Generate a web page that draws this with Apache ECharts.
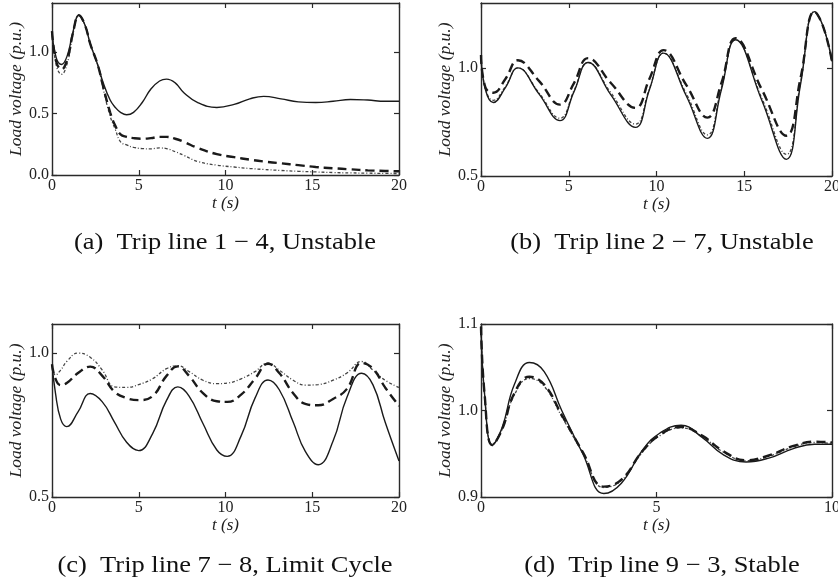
<!DOCTYPE html>
<html>
<head>
<meta charset="utf-8">
<title>Load voltage after line trips</title>
<script src="https://cdn.jsdelivr.net/npm/echarts@6/dist/echarts.min.js"></script>
<style>
  html, body { margin: 0; padding: 0; background: #fff; }
  #chart { width: 838px; height: 584px; }
</style>
</head>
<body>
<div id="chart"></div>
<script>
// ---- (a) Trip line 1-4 ----
const tA = [0, 0.25, 0.55, 0.9, 1.2, 1.55, 1.9, 2.2, 2.65, 2.95, 3.35, 3.65, 3.95, 4.3, 4.7, 5.2, 5.7, 6.2, 6.6, 7.1, 7.6, 8.4, 9.5, 10.5, 11.4, 12.2, 13.2, 14.2, 15.2, 16.2, 17.2, 18.2, 19.2, 20];
const solidA = [1.17, 0.95, 0.90, 0.98, 1.16, 1.30, 1.22, 1.07, 0.89, 0.75, 0.61, 0.55, 0.51, 0.49, 0.51, 0.59, 0.70, 0.765, 0.78, 0.75, 0.67, 0.59, 0.55, 0.575, 0.62, 0.64, 0.62, 0.595, 0.59, 0.60, 0.615, 0.61, 0.60, 0.60];
const dashA = [1.17, 0.92, 0.86, 0.95, 1.15, 1.30, 1.22, 1.07, 0.89, 0.72, 0.51, 0.40, 0.33, 0.31, 0.30, 0.295, 0.30, 0.31, 0.31, 0.295, 0.27, 0.22, 0.17, 0.145, 0.125, 0.11, 0.095, 0.08, 0.065, 0.055, 0.046, 0.038, 0.033, 0.03];
const dotA = [1.17, 0.89, 0.82, 0.92, 1.14, 1.30, 1.22, 1.07, 0.89, 0.70, 0.48, 0.37, 0.27, 0.245, 0.225, 0.215, 0.213, 0.22, 0.215, 0.19, 0.16, 0.11, 0.08, 0.065, 0.053, 0.045, 0.037, 0.03, 0.025, 0.02, 0.017, 0.015, 0.013, 0.012];

// ---- (b) Trip line 2-7 ----
const tB = [0, 0.25, 0.7, 1.4, 2.1, 3.3, 4.5, 5.3, 6.1, 7.4, 8.8, 9.6, 10.4, 11.7, 12.9, 13.7, 14.5, 16.0, 17.4, 18.2, 19.0, 19.5, 20];
const solidB = [1.06, 0.90, 0.84, 0.91, 1.00, 0.88, 0.756, 0.89, 1.025, 0.875, 0.725, 0.90, 1.068, 0.87, 0.674, 0.90, 1.13, 0.85, 0.577, 0.92, 1.26, 1.19, 1.03];
const dashB = [1.06, 0.91, 0.885, 0.95, 1.035, 0.94, 0.83, 0.93, 1.045, 0.93, 0.815, 0.95, 1.082, 0.92, 0.77, 0.93, 1.137, 0.90, 0.686, 0.95, 1.26, 1.19, 1.03];
const dotB = [1.06, 0.905, 0.85, 0.915, 1.00, 0.885, 0.767, 0.895, 1.025, 0.885, 0.74, 0.905, 1.068, 0.88, 0.69, 0.91, 1.13, 0.86, 0.60, 0.93, 1.26, 1.19, 1.03];

// ---- (c) Trip line 7-8 ----
const tC = [0, 0.2, 0.5, 0.85, 1.5, 2.2, 2.9, 3.6, 4.3, 5.0, 5.8, 6.6, 7.25, 7.9, 8.7, 9.5, 10.1, 10.9, 11.7, 12.45, 13.1, 13.9, 14.6, 15.35, 16.2, 17.0, 17.85, 18.5, 19.2, 20];
const solidC = [0.96, 0.86, 0.77, 0.744, 0.795, 0.859, 0.83, 0.76, 0.69, 0.661, 0.72, 0.835, 0.882, 0.85, 0.755, 0.663, 0.641, 0.712, 0.843, 0.906, 0.872, 0.76, 0.658, 0.612, 0.694, 0.846, 0.929, 0.889, 0.76, 0.625];
const dashC = [0.96, 0.91, 0.888, 0.895, 0.93, 0.952, 0.92, 0.865, 0.843, 0.836, 0.85, 0.92, 0.953, 0.92, 0.86, 0.832, 0.83, 0.855, 0.91, 0.962, 0.93, 0.86, 0.823, 0.818, 0.84, 0.875, 0.965, 0.945, 0.88, 0.816];
const dotC = [0.96, 0.923, 0.94, 0.97, 0.999, 0.985, 0.94, 0.882, 0.88, 0.89, 0.91, 0.945, 0.955, 0.935, 0.905, 0.893, 0.895, 0.91, 0.935, 0.965, 0.94, 0.905, 0.888, 0.89, 0.905, 0.93, 0.97, 0.94, 0.905, 0.88];

// ---- (d) Trip line 9-3 ----
const tD = [0, 0.1, 0.32, 0.6, 0.95, 1.38, 1.8, 2.3, 2.9, 3.5, 4.0, 4.6, 5.1, 5.7, 6.3, 6.9, 7.55, 8.2, 8.9, 9.5, 10];
const solidD = [1.097, 1.02, 0.96, 0.98, 1.03, 1.0555, 1.045, 1.0, 0.95, 0.904, 0.916, 0.954, 0.974, 0.983, 0.969, 0.949, 0.9405, 0.945, 0.956, 0.961, 0.961];
const dashD = [1.097, 1.02, 0.96, 0.978, 1.02, 1.039, 1.03, 0.995, 0.952, 0.912, 0.92, 0.953, 0.972, 0.981, 0.971, 0.953, 0.9425, 0.948, 0.959, 0.964, 0.963];
const dotD = [1.097, 1.02, 0.961, 0.978, 1.018, 1.037, 1.028, 0.993, 0.951, 0.911, 0.919, 0.952, 0.971, 0.98, 0.97, 0.952, 0.942, 0.947, 0.958, 0.963, 0.962];

// tick positions
const xTicks20 = [0, 5, 10, 15, 20];
const xTicks10 = [0, 5, 10];
const yTicksA = [0, 0.5, 1.0];
const yTicksB = [0.5, 1.0];
const yTicksC = [0.5, 1.0];
const yTicksD = [0.9, 1.0, 1.1];

const captions = [
  '(a)  Trip line 1 \u2212 4, Unstable',
  '(b)  Trip line 2 \u2212 7, Unstable',
  '(c)  Trip line 7 \u2212 8, Limit Cycle',
  '(d)  Trip line 9 \u2212 3, Stable'
];

const SERIF = '"Liberation Serif", "Times New Roman", serif';
const AXIS = '#2a2a2a';
const INK = '#1a1a1a';

const panels = [
  { box: { left: 52, top: 3, width: 347, height: 172 }, t: tA, s: solidA, d: dashA, o: dotA,
    x: [0, 20], y: [0, 1.4], xt: xTicks20, yt: yTicksA, yGap: 27, xGap: 11, cap: [225, 243] },
  { box: { left: 481, top: 3, width: 351, height: 173 }, t: tB, s: solidB, d: dashB, o: dotB,
    x: [0, 20], y: [0.5, 1.3], xt: xTicks20, yt: yTicksB, yGap: 18, xGap: 11, cap: [662, 243] },
  { box: { left: 52, top: 324, width: 347, height: 173 }, t: tC, s: solidC, d: dashC, o: dotC,
    x: [0, 20], y: [0.5, 1.1], xt: xTicks20, yt: yTicksC, yGap: 27, xGap: 19, cap: [225, 566] },
  { box: { left: 481, top: 324, width: 351, height: 173 }, t: tD, s: solidD, d: dashD, o: dotD,
    x: [0, 10], y: [0.9, 1.1], xt: xTicks10, yt: yTicksD, yGap: 26, xGap: 19, cap: [662, 566] }
];

const zip = (t, v) => t.map((x, i) => [x, v[i]]);

const grid = [], xAxis = [], yAxis = [], series = [];

panels.forEach((p, g) => {
  grid.push(Object.assign({ outerBoundsMode: 'none', containLabel: false }, p.box));
  const lineStyle = { color: AXIS, width: 1.4 };
  const tickStyle = { color: AXIS, width: 1.2 };
  const labelStyle = { fontFamily: SERIF, fontSize: 16, color: '#222' };
  // bottom / left axes carry labels
  xAxis.push({
    type: 'value', gridIndex: g, position: 'bottom', min: p.x[0], max: p.x[1],
    axisLine: { show: true, onZero: false, lineStyle },
    axisTick: { show: true, inside: true, length: 5, customValues: p.xt, lineStyle: tickStyle },
    axisLabel: Object.assign({ customValues: p.xt, margin: 3, formatter: v => String(v) }, labelStyle),
    splitLine: { show: false },
    name: 't (s)', nameLocation: 'middle', nameGap: p.xGap,
    nameTextStyle: { fontFamily: SERIF, fontStyle: 'italic', fontSize: 17, color: '#222' }
  });
  yAxis.push({
    type: 'value', gridIndex: g, position: 'left', min: p.y[0], max: p.y[1],
    axisLine: { show: true, onZero: false, lineStyle },
    axisTick: { show: true, inside: true, length: 5, customValues: p.yt, lineStyle: tickStyle },
    axisLabel: Object.assign({ customValues: p.yt, margin: 3, formatter: v => v.toFixed(1) }, labelStyle),
    splitLine: { show: false },
    name: 'Load voltage (p.u.)', nameLocation: 'middle', nameGap: p.yGap,
    nameTextStyle: { fontFamily: SERIF, fontStyle: 'italic', fontSize: 17.5, color: '#222' }
  });
  // mirrored frame with inward ticks on top / right
  xAxis.push({
    type: 'value', gridIndex: g, position: 'top', min: p.x[0], max: p.x[1],
    axisLine: { show: true, onZero: false, lineStyle },
    axisTick: { show: true, inside: true, length: 5, customValues: p.xt, lineStyle: tickStyle },
    axisLabel: { show: false }, splitLine: { show: false }
  });
  yAxis.push({
    type: 'value', gridIndex: g, position: 'right', min: p.y[0], max: p.y[1],
    axisLine: { show: true, onZero: false, lineStyle },
    axisTick: { show: true, inside: true, length: 5, customValues: p.yt, lineStyle: tickStyle },
    axisLabel: { show: false }, splitLine: { show: false }
  });

  const xi = g * 2, yi = g * 2;
  const base = { type: 'line', xAxisIndex: xi, yAxisIndex: yi, symbol: 'none', smooth: 0.45, silent: true, z: 3 };
  series.push(Object.assign({}, base, { data: zip(p.t, p.o), lineStyle: { color: '#444', width: 1.3, type: [3, 2, 1, 2] } }));
  series.push(Object.assign({}, base, { data: zip(p.t, p.d), lineStyle: { color: INK, width: 2.4, type: [9, 5] } }));
  series.push(Object.assign({}, base, { data: zip(p.t, p.s), lineStyle: { color: INK, width: 1.4, type: 'solid' } }));
});

const graphic = panels.map((p, i) => ({
  type: 'text', x: p.cap[0], y: p.cap[1], scaleX: 1.15, silent: true,
  style: { text: captions[i], fontFamily: SERIF, fontSize: 23, fill: '#111', textAlign: 'center', textVerticalAlign: 'middle' }
}));

const chart = echarts.init(document.getElementById('chart'), null, { renderer: 'canvas' });
chart.setOption({
  backgroundColor: '#fff',
  animation: false,
  grid, xAxis, yAxis, series, graphic
});
</script>
</body>
</html>
